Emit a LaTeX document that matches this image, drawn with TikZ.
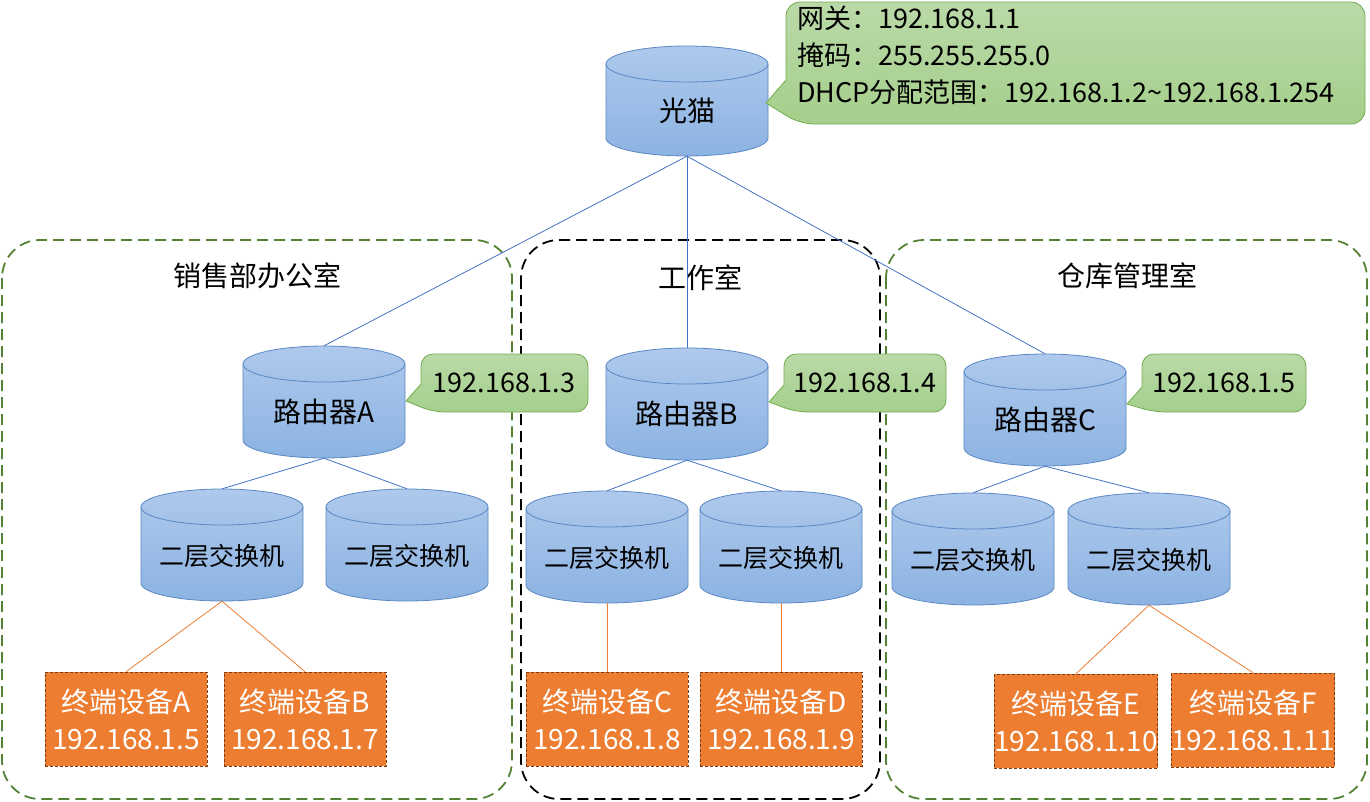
\documentclass[tikz,border=0pt]{standalone}
\usepackage{fontspec}
\setmainfont{Noto Sans CJK SC}

\definecolor{drumTop}{HTML}{AEC9EC}
\definecolor{drumBot}{HTML}{8CB3E2}
\definecolor{drumLine}{HTML}{5A88C4}
\definecolor{linkBlue}{HTML}{4472C4}
\definecolor{linkOrange}{HTML}{ED7D31}
\definecolor{endFill}{HTML}{ED7D31}
\definecolor{endLine}{HTML}{7F3A10}
\definecolor{roomGreen}{HTML}{548235}
\definecolor{bubbleTop}{HTML}{BAD9A8}
\definecolor{bubbleBot}{HTML}{A5CF8B}
\definecolor{bubbleLine}{HTML}{72AC4E}

% cylinder body: centre x, top y, height
\newcommand\drumbody[3]{%
  \path[drum] (#1-81,#2+18) -- (#1-81,#2+#3-18)
      arc[start angle=180, end angle=0, x radius=81, y radius=18]
      -- (#1+81,#2+18)
      arc[start angle=0, end angle=-180, x radius=81, y radius=18] -- cycle;
  \draw[drumrim] (#1-81,#2+18) arc[start angle=180, end angle=0, x radius=81, y radius=18];
}

\tikzset{
  drum/.style={draw=drumLine, line width=0.8pt, top color=drumTop, bottom color=drumBot},
  drumrim/.style={drumLine, line width=0.8pt},
  drumnode/.style={rectangle, minimum width=162pt, minimum height=112pt, inner sep=0pt,
    text height=40pt, text depth=0pt, font=\fontsize{28}{32}\selectfont},
  switchnode/.style={drumnode, font=\fontsize{25}{30}\selectfont},
  endbox/.style={rectangle, draw=endLine, densely dashed, line width=0.6pt,
    fill=endFill, text=white, minimum width=162pt, minimum height=94pt,
    inner sep=0pt, align=center, font=\fontsize{28}{37}\selectfont},
  room/.style={line width=1.8pt, rounded corners=38pt, dash pattern=on 11pt off 6pt},
  bubble/.style={draw=bubbleLine, line width=0.8pt, top color=bubbleTop, bottom color=bubbleBot},
  uplink/.style={draw=linkBlue, line width=0.8pt},
  downlink/.style={draw=linkOrange, line width=0.8pt},
  label/.style={font=\fontsize{28}{32}\selectfont},
  ipnote/.style={font=\fontsize{27}{37}\selectfont},
}

\begin{document}
\begin{tikzpicture}[x=1pt, y=-1pt]
    \useasboundingbox (0,0) rectangle (1370,801);

    % rooms
    \draw[room, roomGreen] (2,240) rectangle (512,799);
    \draw[room, black] (521,240) rectangle (880,799);
    \draw[room, roomGreen] (886,240) rectangle (1367,799);

    \node[label] (roomA) at (257,276) {销售部办公室};
    \node[label] (roomB) at (700,278) {工作室};
    \node[label] (roomC) at (1127,276) {仓库管理室};

    % modem and routers
    \drumbody{687}{46}{110}
    \node[drumnode, minimum height=110pt] (modem) at (687,101) {光猫};
    \drumbody{324}{346}{112}
    \node[drumnode] (rA) at (324,402) {路由器A};
    \drumbody{687}{348}{112}
    \node[drumnode] (rB) at (687,404) {路由器B};
    \drumbody{1045}{354}{112}
    \node[drumnode] (rC) at (1045,410) {路由器C};

    \draw[uplink] (modem.south) -- (rA.north);
    \draw[uplink] (modem.south) -- (rB.north);
    \draw[uplink] (modem.south) -- (rC.north);

    % switches
    \drumbody{222}{489}{112}
    \node[switchnode] (sA1) at (222,545) {二层交换机};
    \drumbody{407}{489}{112}
    \node[switchnode] (sA2) at (407,545) {二层交换机};
    \drumbody{607}{491}{112}
    \node[switchnode] (sB1) at (607,547) {二层交换机};
    \drumbody{781}{491}{112}
    \node[switchnode] (sB2) at (781,547) {二层交换机};
    \drumbody{973}{493}{112}
    \node[switchnode] (sC1) at (973,549) {二层交换机};
    \drumbody{1149}{493}{112}
    \node[switchnode] (sC2) at (1149,549) {二层交换机};

    \draw[uplink] (rA.south) -- (sA1.north);
    \draw[uplink] (rA.south) -- (sA2.north);
    \draw[uplink] (rB.south) -- (sB1.north);
    \draw[uplink] (rB.south) -- (sB2.north);
    \draw[uplink] (rC.south) -- (sC1.north);
    \draw[uplink] (rC.south) -- (sC2.north);

    % terminals
    \node[endbox] (tA) at (126,719) {终端设备A\\192.168.1.5};
    \node[endbox] (tB) at (305,719) {终端设备B\\192.168.1.7};
    \node[endbox] (tC) at (607,719) {终端设备C\\192.168.1.8};
    \node[endbox] (tD) at (781,719) {终端设备D\\192.168.1.9};
    \node[endbox] (tE) at (1076,721) {终端设备E\\192.168.1.10};
    \node[endbox] (tF) at (1253,720) {终端设备F\\192.168.1.11};

    \draw[downlink] (sA1.south) -- (tA.north);
    \draw[downlink] (sA1.south) -- (tB.north);
    \draw[downlink] (sB1.south) -- (tC.north);
    \draw[downlink] (sB2.south) -- (tD.north);
    \draw[downlink] (sC2.south) -- (tE.north);
    \draw[downlink] (sC2.south) -- (tF.north);

    % callouts
    \path[bubble] (766,103) -- (786,80) [rounded corners=14pt] -- (786,2) -- (1365,2)
        -- (1365,124) -- (800,124) [sharp corners] -- cycle;
    \path[bubble] (406,401) -- (421,384) [rounded corners=12pt] -- (421,354) -- (588,354)
        -- (588,412) -- (433,412) [sharp corners] -- cycle;
    \path[bubble] (769,402) -- (784,385) [rounded corners=12pt] -- (784,354) -- (946,354)
        -- (946,412) -- (796,412) [sharp corners] -- cycle;
    \path[bubble] (1127,404) -- (1142,387) [rounded corners=12pt] -- (1142,354) -- (1306,354)
        -- (1306,412) -- (1154,412) [sharp corners] -- cycle;

    \node[ipnote, anchor=north west, align=left, inner sep=0pt] (gwNote) at (797,6)
        {网关：192.168.1.1\\掩码：255.255.255.0\\DHCP分配范围：192.168.1.2\textasciitilde 192.168.1.254};
    \node[ipnote] (ipA) at (504,383) {192.168.1.3};
    \node[ipnote] (ipB) at (865,383) {192.168.1.4};
    \node[ipnote] (ipC) at (1224,383) {192.168.1.5};
\end{tikzpicture}
\end{document}
